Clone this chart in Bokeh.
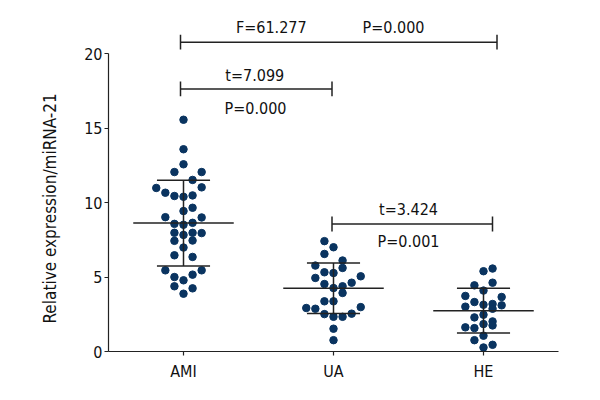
from bokeh.plotting import figure
from bokeh.models import Range1d, FixedTicker, ColumnDataSource, Title
from bokeh.embed import file_html
from bokeh.resources import INLINE
from bokeh.core.properties import value

# ---- data ----
categories = ["AMI", "UA", "HE"]

ami_values = [15.56, 13.58, 12.57, 12.05, 12.05, 11.52, 10.98, 11.02, 10.66, 10.44, 10.39, 10.48,
              9.65, 9.43, 9.02, 9.00, 8.57, 8.51, 8.64, 7.97, 7.83, 7.97, 7.95, 7.43, 7.45,
              6.98, 6.46, 6.35, 5.45, 5.45, 5.16, 5.00, 4.78, 4.38, 4.24, 3.88]
ami_jitter = [0, 0, 0, -1, 2, 1, -3, 2, -2, -1, 0, 1,
              1, 0, -2, 2, -1, 0, 1, -1, 0, 1, 2, -1, 1,
              0, -1, 1, -2, 2, 1, -1, 0, -1, 1, 0]

ua_values = [7.41, 7.00, 6.55, 6.11, 5.77, 5.61, 5.32, 5.27, 4.94, 5.05, 4.53, 4.62, 4.38,
             4.26, 3.93, 3.37, 3.37, 2.92, 2.87, 2.98, 2.51, 2.33, 2.33, 2.54, 1.53, 0.76]
ua_jitter = [-1, 0, -1, 1, -2, 1, -1, 0, -2, 3, -1, 2, 1,
             0, 1, -1, 0, -3, -2, 3, -1, 0, 1, 2, 0, 0]

he_values = [5.39, 5.57, 4.44, 4.62, 4.09, 3.73, 3.66, 3.32, 3.01, 3.14, 3.19, 3.10,
             2.87, 2.47, 2.29, 2.02, 1.84, 1.75, 1.62, 1.57, 1.06, 0.76, 0.45, 0.27]
he_jitter = [0, 1, -1, 1, 0, -2, 2, -1, -2, 0, 1, 2,
             1, 0, -1, 1, 0, 1, -2, -1, 0, -1, 1, 0]

group_means = [8.62, 4.25, 2.74]
group_sds = [2.88, 1.70, 1.50]

bracket_start = [0.98, 0.98, 1.99]
bracket_end = [3.09, 1.99, 3.06]
bracket_level = [20.77, 17.63, 8.56]

stat_labels = ["F=61.277", "P=0.000", "t=7.099", "P=0.000", "t=3.424", "P=0.001"]
stat_x = [1.585, 2.40, 1.475, 1.48, 2.50, 2.50]
stat_y = [21.77, 21.77, 18.53, 16.31, 9.52, 7.37]

y_ticks = [0, 5, 10, 15, 20]
y_title = "Relative expression/miRNA-21"

# ---- style ----
FONT = "'DejaVu Sans Condensed', 'DejaVu Sans', sans-serif"
DOT = "#0a3460"
LINE = "#222222"
STEP = 0.0605        # jitter step in category units
MEAN_HALF = 0.335
CAP_HALF = 0.177
TICK_HALF = 0.5

p = figure(width=584, height=384, output_backend="svg", toolbar_location=None,
           x_range=Range1d(0.5, 3.5), y_range=Range1d(0, 23.03),
           min_border_left=108, min_border_right=26, min_border_top=8, min_border_bottom=33)
p.outline_line_color = None
p.xgrid.visible = False
p.ygrid.visible = False
p.background_fill_color = "white"
p.border_fill_color = "white"

# points
xs, ys = [], []
for i, (vals, jit) in enumerate([(ami_values, ami_jitter), (ua_values, ua_jitter), (he_values, he_jitter)]):
    for v, j in zip(vals, jit):
        xs.append(i + 1 + j * STEP)
        ys.append(v)
p.scatter(xs, ys, size=7.5, color=DOT, line_color=DOT)

# mean and SD bars
pos = [i + 1 for i in range(len(categories))]
p.segment(x0=[x - MEAN_HALF for x in pos], x1=[x + MEAN_HALF for x in pos],
          y0=group_means, y1=group_means, line_color=LINE, line_width=1.5)
upper = [m + s for m, s in zip(group_means, group_sds)]
lower = [m - s for m, s in zip(group_means, group_sds)]
p.segment(x0=pos, x1=pos, y0=lower, y1=upper, line_color=LINE, line_width=1.5)
p.segment(x0=[x - CAP_HALF for x in pos], x1=[x + CAP_HALF for x in pos],
          y0=upper, y1=upper, line_color=LINE, line_width=1.5)
p.segment(x0=[x - CAP_HALF for x in pos], x1=[x + CAP_HALF for x in pos],
          y0=lower, y1=lower, line_color=LINE, line_width=1.5)

# brackets
p.segment(x0=bracket_start, x1=bracket_end, y0=bracket_level, y1=bracket_level,
          line_color=LINE, line_width=1.5)
p.segment(x0=bracket_start, x1=bracket_start,
          y0=[b - TICK_HALF for b in bracket_level], y1=[b + TICK_HALF for b in bracket_level],
          line_color=LINE, line_width=1.5)
p.segment(x0=bracket_end, x1=bracket_end,
          y0=[b - TICK_HALF for b in bracket_level], y1=[b + TICK_HALF for b in bracket_level],
          line_color=LINE, line_width=1.5)

src = ColumnDataSource(dict(x=stat_x, y=stat_y, t=stat_labels))
p.text(x="x", y="y", text="t", source=src, text_font=value(FONT), text_font_size="16px",
       text_align="center", text_baseline="middle", text_color="#111111")

# axes
p.xaxis.ticker = FixedTicker(ticks=pos)
p.xaxis.major_label_overrides = {x: c for x, c in zip(pos, categories)}
p.yaxis.ticker = FixedTicker(ticks=y_ticks)
p.yaxis.bounds = (0, 20)
for ax in (p.xaxis[0], p.yaxis[0]):
    ax.axis_line_color = LINE
    ax.axis_line_width = 1.2
    ax.major_tick_line_color = LINE
    ax.major_tick_line_width = 1.2
    ax.major_tick_in = 0
    ax.major_tick_out = 4
    ax.minor_tick_line_color = None
    ax.major_label_text_font = FONT
    ax.major_label_text_font_size = "16px"
    ax.major_label_text_color = "#111111"
p.xaxis.major_label_standoff = 6
p.yaxis.major_label_standoff = 2

# y-axis title as a side title, so it can sit lower than the frame centre as in the original
p.add_layout(Title(text=y_title, align="left", offset=28, standoff=44,
                   text_font=FONT, text_font_size="17px", text_font_style="normal",
                   text_color="#111111"), "left")

open("out.html", "w").write(file_html(p, INLINE))
